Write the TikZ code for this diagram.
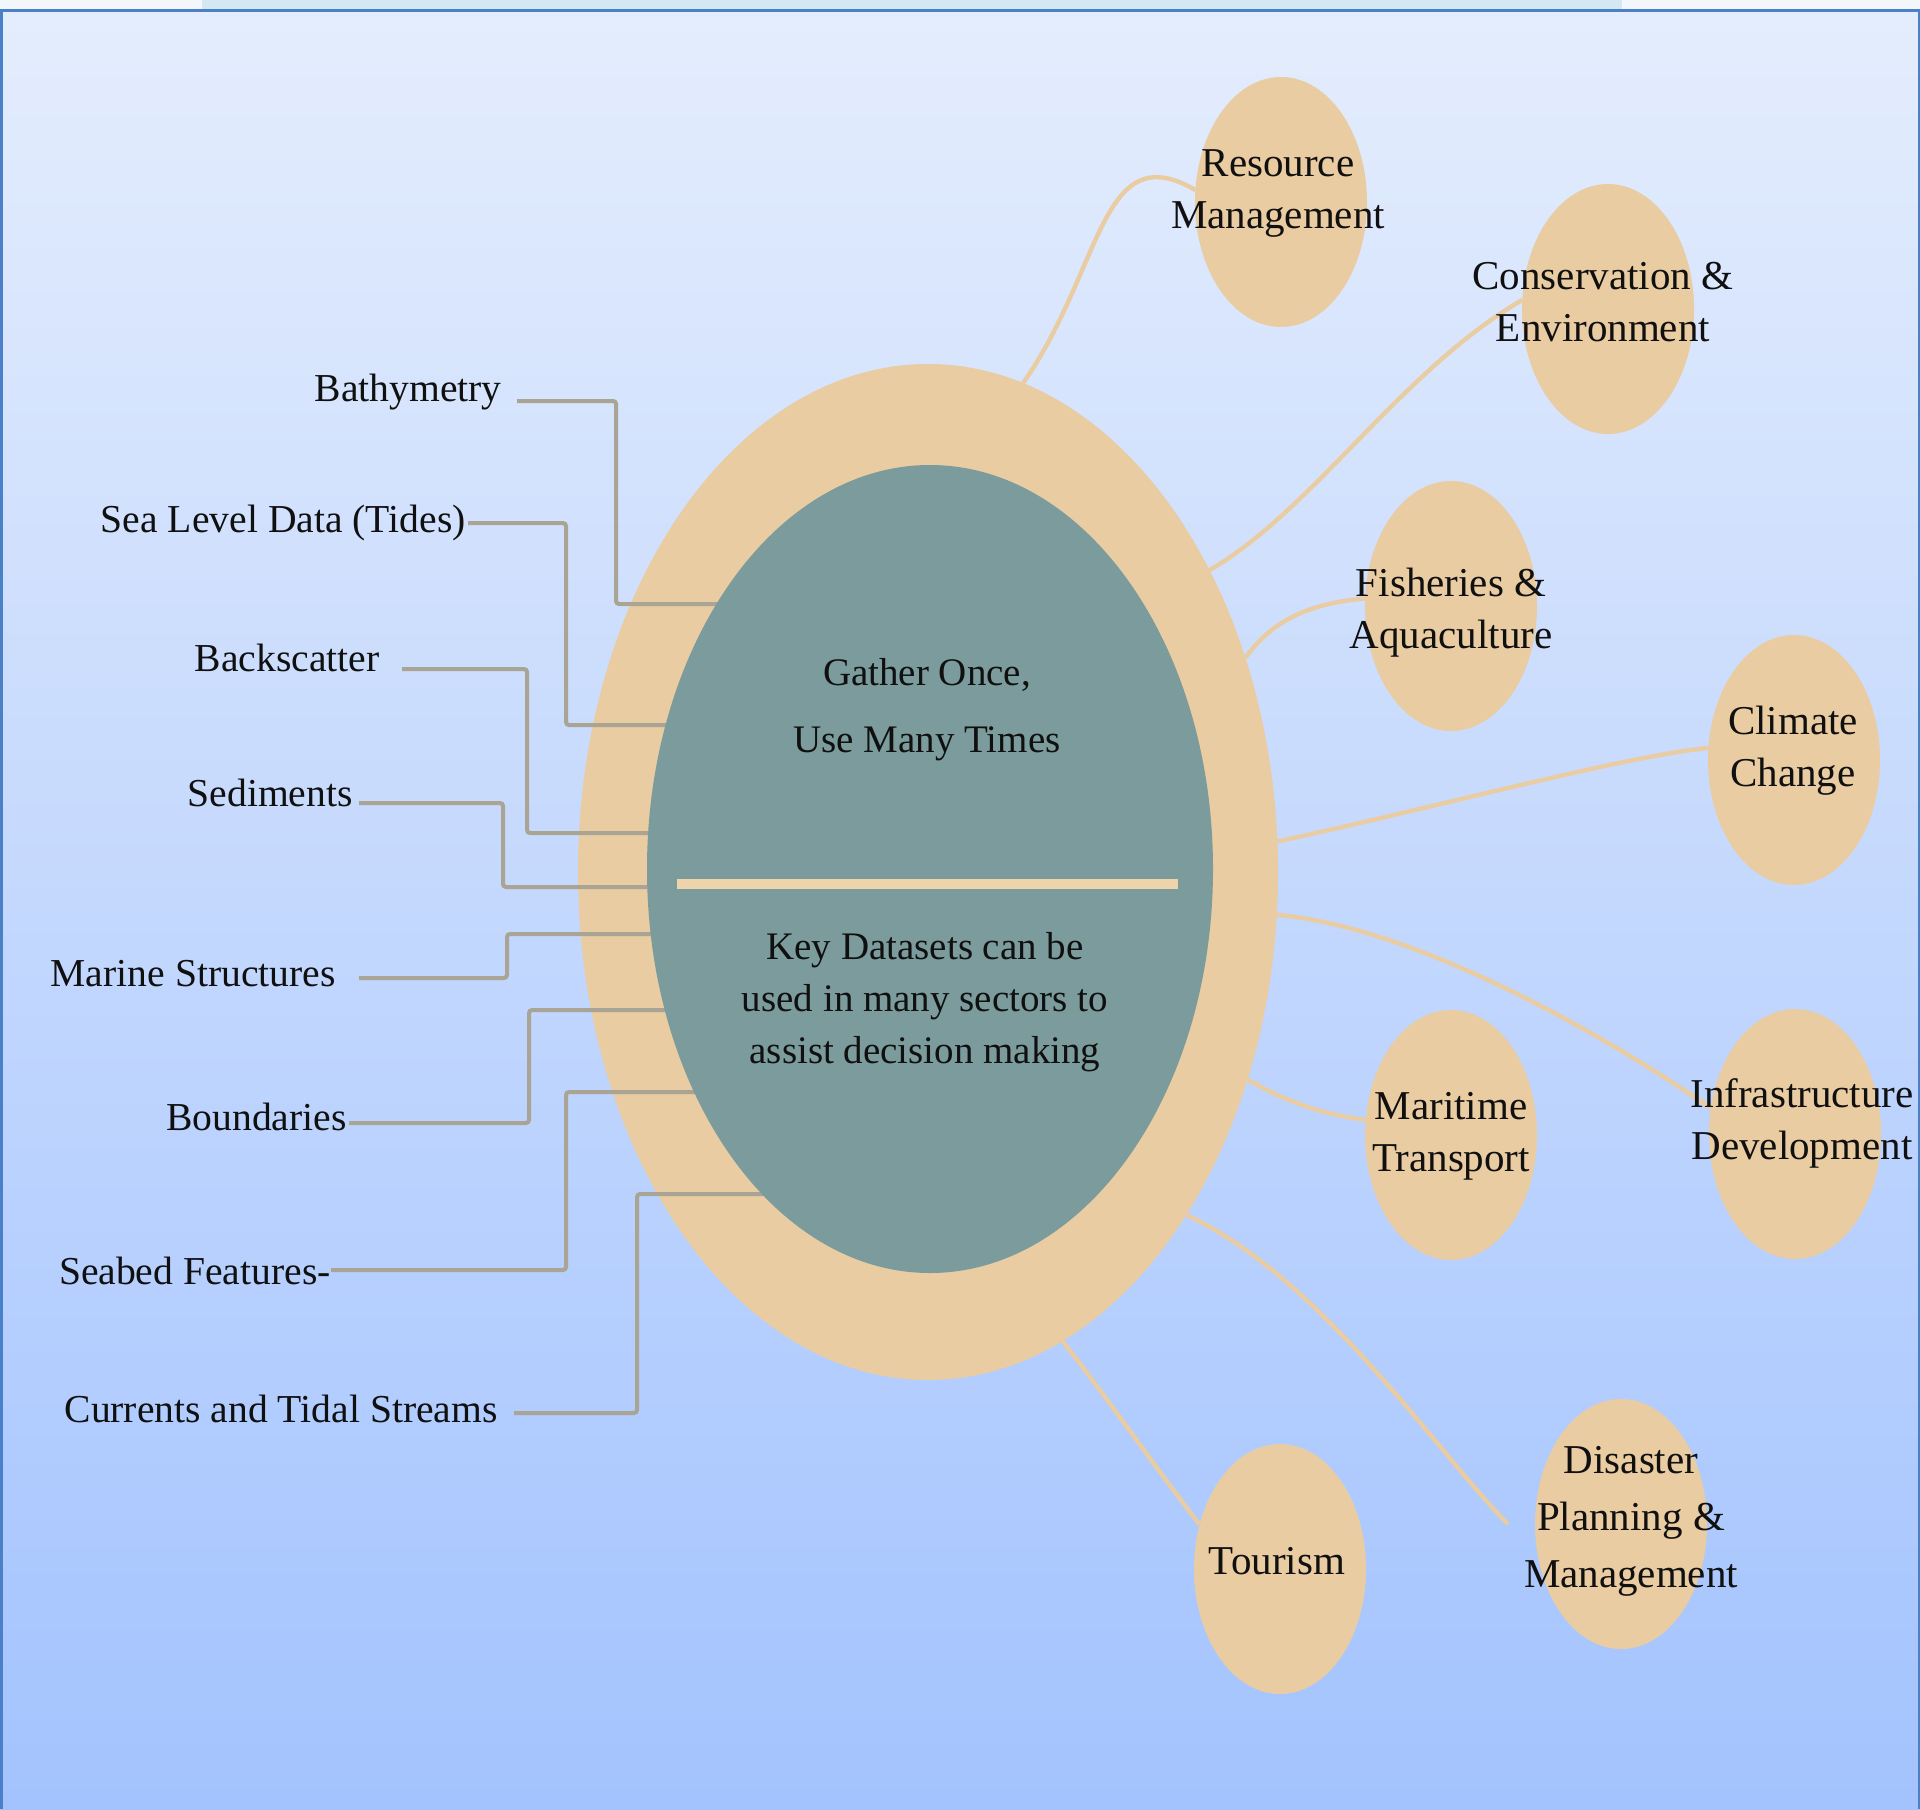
\documentclass[tikz,border=0pt]{standalone}
\usepackage{fontspec}
\setmainfont{Liberation Serif}
\usetikzlibrary{shapes.geometric}
\definecolor{skytop}{HTML}{E4EDFD}
\definecolor{skybot}{HTML}{A3C3FE}
\definecolor{sand}{HTML}{E9CCA2}
\definecolor{sea}{HTML}{7B9B9C}
\definecolor{rope}{HTML}{A9A493}
\definecolor{rim}{HTML}{4A80C8}
\definecolor{ink}{HTML}{101010}
\definecolor{strip}{HTML}{F3F6FA}
\definecolor{stripblue}{HTML}{D4E8F4}
\definecolor{bar}{HTML}{EED4AB}
\pgfdeclarelayer{base}
\pgfdeclarelayer{links}
\pgfsetlayers{base,links,main}
\tikzset{
  sandring/.style={ellipse, fill=sand, minimum width=350pt, minimum height=508pt, inner sep=0pt, outer sep=0pt},
  hubshape/.style={ellipse, fill=sea, minimum width=283pt, minimum height=404pt, inner sep=0pt, outer sep=0pt},
  sat/.style={ellipse, fill=sand, minimum width=86pt, minimum height=125pt, inner sep=0pt, outer sep=0pt},
  sattext/.style={align=center, text=ink, inner sep=0pt, font=\fontsize{20.5}{26}\selectfont},
  hubtext/.style={align=center, text=ink, inner sep=0pt},
  datalabel/.style={anchor=east, text=ink, inner sep=0pt, text height=0.7em, text depth=0.2em, font=\fontsize{19.8}{24}\selectfont},
  feed/.style={draw=rope, line width=2pt, rounded corners=1.5pt},
  spoke/.style={draw=sand, line width=2.2pt},
}
\begin{document}
\begin{tikzpicture}[x=0.5pt,y=0.5pt]
\useasboundingbox (0,0) rectangle (1920,-1809);

% backdrop, frame and the outer ring
\begin{pgfonlayer}{base}
  \fill[strip] (0,0) rectangle (1920,-11);
  \fill[stripblue] (202,0) rectangle (1622,-9);
  \shade[top color=skytop, bottom color=skybot] (0,-11) rectangle (1920,-1809);
  \draw[rim, line width=1.5pt] (1,-1809) -- (1,-11) -- (1919,-11) -- (1919,-1809);
  \node[sandring] (ring) at (928,-872) {};
\end{pgfonlayer}

% central hub
\node[hubshape] (hub) at (930,-869) {};
\draw[bar, line width=5pt] (677,-884) -- (1178,-884);
\node[hubtext, font=\fontsize{19.5}{33.5}\selectfont] (motto) at (927,-710) {Gather Once,\\Use Many Times};
\node[hubtext, font=\fontsize{19.5}{26}\selectfont] (note) at (925,-1002) {Key Datasets can be\\used in many sectors to\\assist decision making};

% datasets on the left
\node[datalabel] (bath) at (502,-396) {Bathymetry};
\node[datalabel] (tide) at (466,-527) {Sea Level Data (Tides)};
\node[datalabel] (back) at (380,-666) {Backscatter};
\node[datalabel] (sedi) at (353,-801) {Sediments};
\node[datalabel] (mari) at (336,-981) {Marine Structures};
\node[datalabel] (boun) at (347,-1125) {Boundaries};
\node[datalabel] (seab) at (331,-1279) {Seabed Features-};
\node[datalabel] (curr) at (498,-1417) {Currents and Tidal Streams};

% sectors on the right
\node[sat] (res) at (1281,-202) {};
\node[sattext] (res-t) at (1278,-193) {Resource\\Management};
\node[sat] (con) at (1608,-309) {};
\node[sattext] (con-t) at (1603,-302) {Conservation \&\\Environment};
\node[sat] (fis) at (1451,-606) {};
\node[sattext] (fis-t) at (1451,-613) {Fisheries \&\\Aquaculture};
\node[sat] (cli) at (1794,-760) {};
\node[sattext] (cli-t) at (1793,-751) {Climate\\Change};
\node[sat] (inf) at (1795,-1134) {};
\node[sattext] (inf-t) at (1802,-1123) {Infrastructure\\Development};
\node[sat] (mar) at (1451,-1135) {};
\node[sattext] (mar-t) at (1451,-1136) {Maritime\\Transport};
\node[sat] (dis) at (1621,-1524) {};
\node[sattext, font=\fontsize{20.5}{28.5}\selectfont] (dis-t) at (1631,-1521) {Disaster\\Planning \&\\Management};
\node[sat] (tou) at (1280,-1569) {};
\node[sattext] (tou-t) at (1277,-1561) {Tourism};

\begin{pgfonlayer}{links}
  % dataset feeds into the hub
  \draw[feed] (bath.east) ++(15,-5) -| (616,-604) -- (hub.center |- 0,-604);
  \draw[feed] (tide.east) ++(2,4) -| (566,-725) -- (hub.center |- 0,-725);
  \draw[feed] (back.east) ++(22,-3) -| (527,-833) -- (hub.center |- 0,-833);
  \draw[feed] (sedi.east) ++(6,-2) -| (503,-887) -- (hub.center |- 0,-887);
  \draw[feed] (mari.east) ++(23,3) -| (507,-934) -- (hub.center |- 0,-934);
  \draw[feed] (boun.east) ++(2,2) -| (529,-1010) -- (hub.center |- 0,-1010);
  \draw[feed] (seab.east) ++(0,9) -| (566,-1092) -- (hub.center |- 0,-1092);
  \draw[feed] (curr.east) ++(16,4) -| (637,-1194) -- (hub.center |- 0,-1194);
  % spokes out to the sectors
  \draw[spoke] (ring.79) .. controls +(55:140) and +(150:110) .. (res.172);
  \draw[spoke] (ring.47) .. controls +(30:120) and +(210:140) .. (con.174);
  \draw[spoke] (ring.34) .. controls +(55:50) and +(185:50) .. (fis.175);
  \draw[spoke] (ring.5) .. controls +(12:150) and +(185:80) .. (cli.172);
  \draw[spoke] (ring.353) .. controls +(-5:150) and +(145:100) .. (inf.163);
  \draw[spoke] (ring.327) .. controls +(-30:50) and +(172:40) .. (mar.170);
  \draw[spoke] (ring.307) .. controls +(-25:150) and +(135:100) .. ([xshift=-13.5pt]dis.west);
  \draw[spoke] (ring.286) .. controls +(-52:80) and +(128:70) .. (tou.151);
\end{pgfonlayer}
\end{tikzpicture}
\end{document}
